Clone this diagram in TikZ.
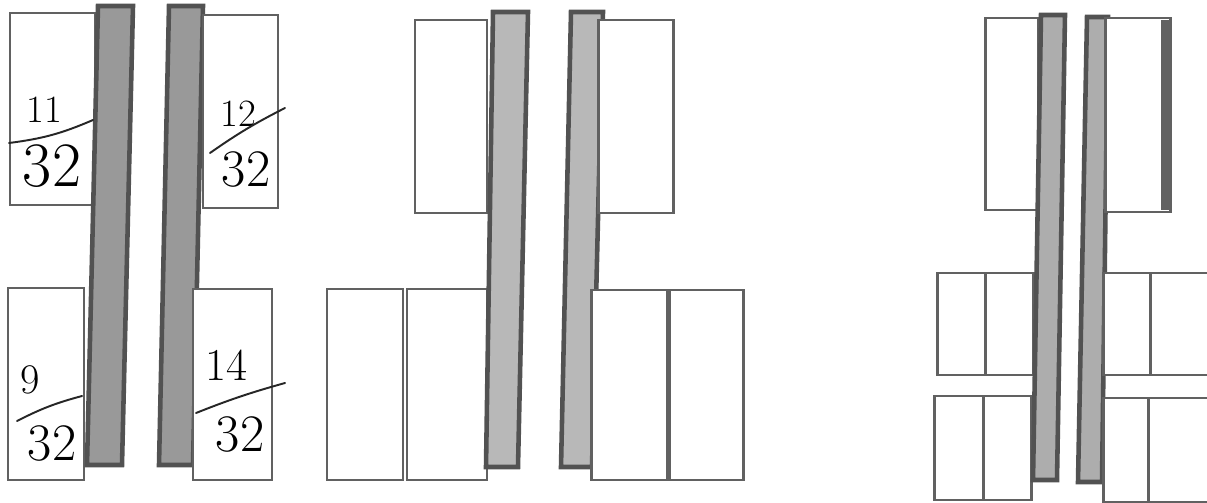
\documentclass[tikz,border=0pt]{standalone}
\usepackage{tikz}

\begin{document}
\begin{tikzpicture}[x=0.02cm,y=-0.02cm,
  pane/.style={draw=black!62,line width=1.7pt,fill=white},
  bar/.style={draw=black!68,line width=2.6pt,fill=#1},
  bar/.default=black!40,
  hand/.style={font=\fontsize{#1}{#1}\selectfont,inner sep=0pt},
  hand/.default=36,
  slash/.style={draw=black!85,line width=1.1pt,line cap=round}]
  \useasboundingbox (0,0) rectangle (1207,503);

  % first pair
  \draw[pane] (10,13) rectangle (95,205);
  \draw[pane] (8,288) rectangle (84,480);
  \draw[bar] (98,6) -- (133,6) -- (122,465) -- (87,465) -- cycle;
  \draw[bar] (169,6) -- (203,6) -- (193,465) -- (159,465) -- cycle;
  \draw[pane] (203,15) rectangle (278,208);
  \draw[pane] (193,289) rectangle (272,480);

  \node[hand=22] (n11) at (44,110) {11};
  \draw[slash] (9,143) to[bend right=8] (93,120);
  \node[hand] (d11) at (52,166) {32};
  \node[hand=22] (n12) at (238,114) {12};
  \draw[slash] (210,153) to[bend left=4] (285,108);
  \node[hand=30] (d12) at (246,170) {32};
  \node[hand=24] (n9) at (30,380) {9};
  \draw[slash] (17,421) to[bend left=6] (82,396);
  \node[hand=30] (d9) at (52,443) {32};
  \node[hand=26] (n14) at (226,365) {14};
  \draw[slash] (196,413) to[bend left=3] (285,383);
  \node[hand=30] (d14) at (240,435) {32};

  % second pair
  \draw[pane] (415,20) rectangle (487,213);
  \draw[pane] (327,289) rectangle (403,480);
  \draw[pane] (407,289) rectangle (487,480);
  \draw[bar=black!28] (493,12) -- (528,12) -- (518,467) -- (486,467) -- cycle;
  \draw[bar=black!28] (571,12) -- (603,12) -- (592,467) -- (561,467) -- cycle;
  \draw[pane] (598,20) rectangle (673,213);
  \draw[pane] (591,290) rectangle (667,480);
  \draw[pane] (669,290) rectangle (743,480);

  % third pair
  \draw[pane] (985,18) rectangle (1038,210);
  \draw[pane] (937,273) rectangle (985,375);
  \draw[pane] (985,273) rectangle (1033,375);
  \draw[pane] (934,396) rectangle (983,500);
  \draw[pane] (983,396) rectangle (1031,500);
  \draw[bar=black!32] (1041,15) -- (1065,15) -- (1057,480) -- (1033,480) -- cycle;
  \draw[bar=black!32] (1087,17) -- (1108,17) -- (1102,482) -- (1078,482) -- cycle;
  \draw[pane] (1105,18) rectangle (1170,212);
  \fill[black!62] (1161,20) rectangle (1170,210);
  \draw[pane] (1103,273) rectangle (1150,375);
  \draw[pane] (1150,273) rectangle (1212,375);
  \draw[pane] (1103,398) rectangle (1148,502);
  \draw[pane] (1148,398) rectangle (1212,502);
\end{tikzpicture}
\end{document}
